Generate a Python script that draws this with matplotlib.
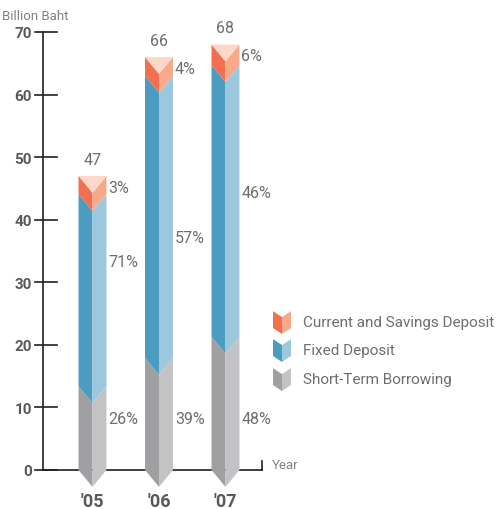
import matplotlib
matplotlib.use("Agg")
import matplotlib.pyplot as plt
from matplotlib.patches import Polygon

# data (billion baht)
years = ["'05", "'06", "'07"]
totals = [47, 66, 68]
short_term = [13.4, 17.9, 21.3]
fixed = [30.7, 45.1, 43.4]
current = [2.9, 3.0, 3.3]
pct_short = ["26%", "39%", "48%"]
pct_fixed = ["71%", "57%", "46%"]
pct_current = ["3%", "4%", "6%"]

series_names = ["Current and Savings Deposit", "Fixed Deposit", "Short-Term Borrowing"]

# colours: (dark left face, light right face)
c_orange = ("#f26f4f", "#f9a98b")
c_pale = "#fdd7c7"
c_blue = ("#4b9cc0", "#9cc8de")
c_grey = ("#a0a0a2", "#c3c3c5")
txt = "#6d6e71"
dark_txt = "#58595b"

plt.rcParams['font.family'] = ['Roboto', 'DejaVu Sans']


def prism(ax, x, b, t, w, d, cols, top=False, **kw):
    left = [(x - w, b), (x, b - d), (x, t - d), (x - w, t)]
    right = [(x, b - d), (x + w, b), (x + w, t), (x, t - d)]
    ax.add_patch(Polygon(left, closed=True, fc=cols[0], ec='none', **kw))
    ax.add_patch(Polygon(right, closed=True, fc=cols[1], ec='none', **kw))
    if top:
        tri = [(x - w, t), (x + w, t), (x, t - d)]
        ax.add_patch(Polygon(tri, closed=True, fc=c_pale, ec='none', **kw))


fig = plt.figure(figsize=(4.98, 5.10), dpi=100)
ax = fig.add_axes([43 / 498, 39 / 510, 219 / 498, 438 / 510])
ax.set_xlim(-0.744, 2.549)
ax.set_ylim(0, 70)

w = 0.21
d = 2.7
for i in range(len(years)):
    s, f, c = short_term[i], fixed[i], current[i]
    prism(ax, i, 0, s, w, d, c_grey, clip_on=False, zorder=3)
    prism(ax, i, s, s + f, w, d, c_blue, clip_on=False, zorder=3)
    prism(ax, i, s + f, s + f + c, w, d, c_orange, top=True, clip_on=False, zorder=3)

    ax.text(i, totals[i] + 1.5, str(totals[i]), ha='center', va='bottom',
            fontsize=11.5, color=txt)
    xl = i + w + 0.03
    ax.text(xl, totals[i] - 1.8, pct_current[i], ha='left', va='center', fontsize=11.5, color=txt)
    ax.text(xl, [33.4, 37.2, 44.4][i], pct_fixed[i], ha='left', va='center', fontsize=11.5, color=txt)
    ax.text(xl, 8.2, pct_short[i], ha='left', va='center', fontsize=11.5, color=txt)

# axes styling
for sp in ['top', 'right']:
    ax.spines[sp].set_visible(False)
ax.spines['left'].set_color('#231f20')
ax.spines['bottom'].set_color('#231f20')
ax.spines['left'].set_linewidth(1.2)
ax.spines['bottom'].set_linewidth(1.2)

ax.set_yticks(range(0, 71, 10))
ax.tick_params(axis='y', length=0, pad=8, labelsize=11, labelcolor=dark_txt)
for lab in ax.get_yticklabels():
    lab.set_fontweight('bold')
# custom tick marks crossing the axis
ytr = ax.get_yaxis_transform()
for v in range(0, 71, 10):
    ax.plot([-8 / 219, 14 / 219], [v, v], color='#231f20', lw=1.2, transform=ytr, clip_on=False)

ax.set_xticks(range(len(years)))
ax.set_xticklabels(years)
ax.tick_params(axis='x', length=0, pad=16, labelsize=13, labelcolor=dark_txt)
for lab in ax.get_xticklabels():
    lab.set_fontweight('bold')

# end tick of x axis
ax.plot([1, 1], [0, 9 / 438], color='#231f20', lw=1.2, transform=ax.transAxes, clip_on=False)
ax.text(1.045, 0.012, "Year", transform=ax.transAxes, ha='left', va='center',
        fontsize=9.5, color='#808285')
fig.text(2 / 498, 1 - 16 / 510, "Billion Baht", ha='left', va='center',
         fontsize=9.5, color='#808285')

# legend with small prism icons, in pixel coordinates
lax = fig.add_axes([0, 0, 1, 1])
lax.set_xlim(0, 498)
lax.set_ylim(510, 0)
lax.axis('off')
leg_cols = [c_orange, c_blue, c_grey]
leg_y = [323, 351, 380]
for k, name in enumerate(series_names):
    yc = leg_y[k]
    ytop, ybot = yc - 11, yc + 6
    # in pixel coords (y down) so depth is negative
    prism(lax, 282, ybot, ytop, 9, -6, leg_cols[k])
    lax.add_patch(Polygon([(273, ytop), (291, ytop), (282, ytop + 6)], closed=True,
                          fc='white', alpha=0.55, ec='none'))
    lax.text(303, yc, name, ha='left', va='center', fontsize=11, color=txt)

fig.savefig("out.png", dpi=100)
